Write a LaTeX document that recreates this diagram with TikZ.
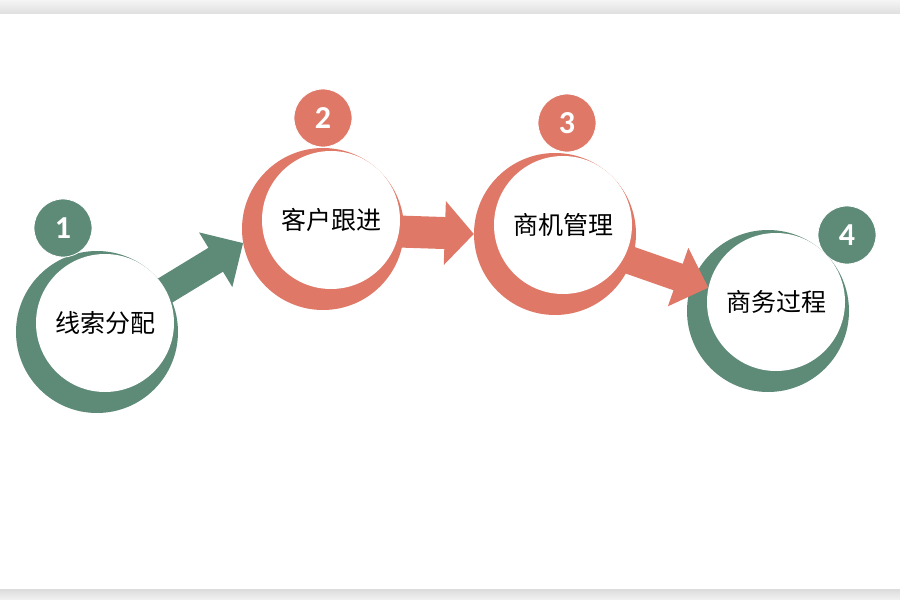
\documentclass[tikz,border=0pt]{standalone}
\usepackage{fontspec}
\setmainfont{Carlito}
\newfontfamily\cjk{Noto Sans CJK SC}
\usetikzlibrary{calc}
\pgfdeclarelayer{ringlayer}
\pgfdeclarelayer{arrowlayer}
\pgfsetlayers{ringlayer,arrowlayer,main}
\definecolor{sage}{HTML}{5E8A78}
\definecolor{coral}{HTML}{E07868}
\tikzset{
 ring/.style={circle, inner sep=0pt, minimum size=162pt, fill=#1},
 face/.style={circle, inner sep=0pt, minimum size=138pt, fill=white, text=black, font=\cjk\fontsize{25}{25}\selectfont},
 badge/.style={circle, inner sep=0pt, minimum size=58pt, fill=#1, draw=white, line width=0.8pt, text=white, font=\fontsize{32}{32}\selectfont\bfseries},
}
\newcommand\fatarrow[7]{% name, start, tip, colour, shaft half width, head half width, head length
 \coordinate (#1h) at ($(#3)!#7!(#2)$);
 \fill[#4] ($(#2)!#5!90:(#3)$) -- ($(#1h)!#5!90:(#3)$) -- ($(#1h)!#6!90:(#3)$) -- (#3)
   -- ($(#1h)!#6!-90:(#3)$) -- ($(#1h)!#5!-90:(#3)$) -- ($(#2)!#5!-90:(#3)$) -- cycle;}
\begin{document}
\begin{tikzpicture}[x=1pt,y=1pt]
\useasboundingbox (0,0) rectangle (900,-600);
\begin{pgfonlayer}{ringlayer}
\fill[white] (0,0) rectangle (900,-600);
\shade[top color=black!4, bottom color=black!12] (0,0) rectangle (900,-13);
\shade[top color=black!14, bottom color=black!5] (0,-589) rectangle (900,-600);
\node[ring=sage] (o1) at (97,-332) {};
\node[ring=coral] (o2) at (323,-229) {};
\node[ring=coral] (o3) at (555,-234) {};
\node[ring=sage] (o4) at (768,-311) {};
\end{pgfonlayer}
\node[face] (w1) at (105,-323) {线索分配};
\node[face] (w2) at (331,-220) {客户跟进};
\node[face] (w3) at (563,-225) {商机管理};
\node[face] (w4) at (776,-302) {商务过程};
\node[badge=sage] (b1) at (63,-228) {1};
\node[badge=coral] (b2) at (323,-118) {2};
\node[badge=coral] (b3) at (567,-123) {3};
\node[badge=sage] (b4) at (847,-235) {4};
\begin{pgfonlayer}{arrowlayer}
\fatarrow{a1}{o1}{o2.190}{sage}{14pt}{32pt}{32pt}
\fatarrow{a2}{o2}{o3.180}{coral}{16pt}{32pt}{29pt}
\fatarrow{a3}{o3}{w4.168}{coral}{14pt}{31pt}{32pt}
\end{pgfonlayer}
\end{tikzpicture}
\end{document}
